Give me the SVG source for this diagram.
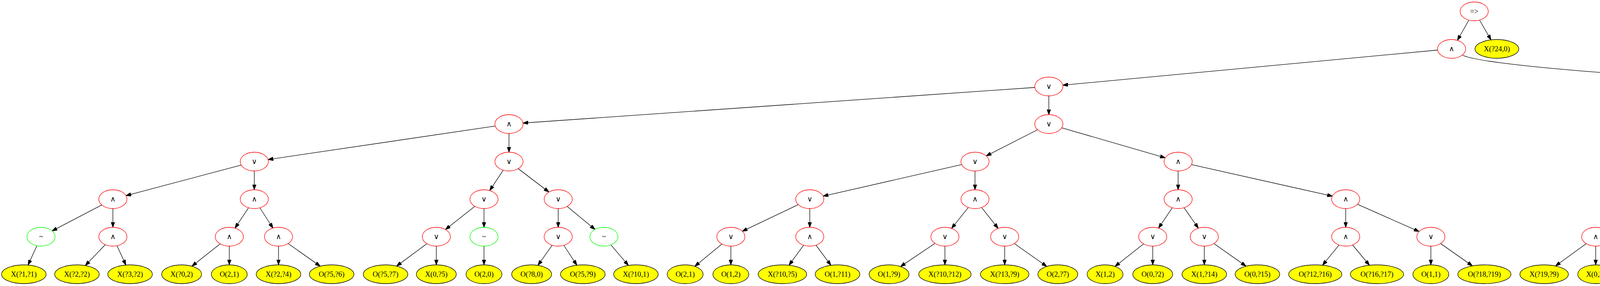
<svg xmlns="http://www.w3.org/2000/svg" width="5697" height="731" viewBox="0 0 5697 731">
<style>
.op ellipse{fill:none;stroke:#ff0000;stroke-width:1.33}
.neg ellipse{fill:none;stroke:#00ff00;stroke-width:1.33}
.leaf ellipse{fill:#ffff00;stroke:#000000;stroke-width:1.33}
text{font-family:"Liberation Serif","Times New Roman",serif;font-size:18.67px;text-anchor:middle;fill:#000}
.sym{font-family:"DejaVu Sans","Liberation Sans",sans-serif}
.edges path{fill:none;stroke:#000;stroke-width:1.33;marker-end:url(#ah)}
</style>
<defs>
<marker id="ah" viewBox="0 0 10 7" refX="10" refY="3.5" markerWidth="13.33" markerHeight="9.33" markerUnits="userSpaceOnUse" orient="auto"><path d="M0,0 L10,3.5 L0,7 z" fill="#000" stroke="#000" stroke-width="1"/></marker>
</defs>
<rect width="5697" height="731" fill="#fff"/>
<g id="edges" class="edges">
<path d="M3760,52 L3731,103"/>
<path d="M3788,52 L3817,102"/>
<path d="M3680,128 L2720.7,217.7"/>
<path d="M3744,141 C3790,165 4200,200 4721.4,218.5"/>
<path d="M2649.2,223.5 L1338.8,314.5"/>
<path d="M2685,245 L2685,293"/>
<path d="M4757,245 L4757,293"/>
<path d="M4788.9,232.1 L5000.1,305.9"/>
<path d="M1267.85,322.2 L686.15,407.8"/>
<path d="M1303,341 L1303,389"/>
<path d="M2656.4,331.5 L2524.6,398.5"/>
<path d="M2718,326.6 L2983,403.4"/>
<path d="M4738.1,337.4 L4686.9,392.6"/>
<path d="M4780.5,335.2 L4857.5,394.8"/>
<path d="M5032,341 L5032,389"/>
<path d="M5053.2,336.4 L5114.2,392.2"/>
<path d="M617.55,421.9 L322.45,500.1"/>
<path d="M651,437 L651,485"/>
<path d="M1288.4,434.9 L1253.6,487.1"/>
<path d="M1326.7,431.1 L1405.3,490.9"/>
<path d="M2461.9,420.7 L2107.1,501.3"/>
<path d="M2496,437 L2496,485"/>
<path d="M3016,437 L3016,485"/>
<path d="M3050.1,420.6 L3410.9,501.4"/>
<path d="M4634.4,421.7 L4330.6,500.3"/>
<path d="M4668,437 L4668,485"/>
<path d="M4881,437 L4881,485"/>
<path d="M4909.05,428 L5031.95,494"/>
<path d="M5062,431 C5120,460 5200,475 5328,504"/>
<path d="M260.65,523.8 L133.35,590.2"/>
<path d="M289,533 L289,581"/>
<path d="M636.4,530.9 L601.6,583.1"/>
<path d="M665.2,531 L698.8,583"/>
<path d="M1215.7,527.3 L1140.3,586.7"/>
<path d="M1239,533 L1239,581"/>
<path d="M1429,533 L1429,581"/>
<path d="M1451.7,527.6 L1523.3,586.4"/>
<path d="M2043.7,522.9 L1900.3,591.1"/>
<path d="M2073,533 L2073,581"/>
<path d="M2479,530.2 L2436,583.8"/>
<path d="M2512.8,530.2 L2555.2,583.8"/>
<path d="M3001.2,530.9 L2965.8,583.1"/>
<path d="M3031.2,530.8 L3067.8,583.2"/>
<path d="M3445,533 L3445,581"/>
<path d="M3475,522.2 L3633,591.8"/>
<path d="M4267.2,522.5 L4114.8,591.5"/>
<path d="M4297,533 L4297,581"/>
<path d="M4659.5,532.3 L4641.5,581.7"/>
<path d="M4685.65,529.9 L4731.35,584.1"/>
<path d="M5060,533 L5060,581"/>
<path d="M5089.2,523 L5230.8,591"/>
<path d="M5388.1,526.2 L5477.9,587.8"/>
<path d="M94.5,628 L71.8,677.4"/>
<path d="M269.6,625.2 L218.3,678.7"/>
<path d="M299.5,628 L322.2,677.4"/>
<path d="M563.7,623.3 L491.2,680.4"/>
<path d="M587,629 L587,677"/>
<path d="M713,629 L713,677"/>
<path d="M737.7,622.45 L819.8,680.4"/>
<path d="M1092.9,622.8 L1015.2,680.15"/>
<path d="M1117,629 L1117,677"/>
<path d="M1239,629 L1239,677"/>
<path d="M1413.6,626.7 L1377.1,678.2"/>
<path d="M1443.4,627 L1476.8,677.9"/>
<path d="M1563.8,625.9 L1608.7,678.4"/>
<path d="M1848.3,623.6 L1778.7,680.7"/>
<path d="M1871,629 L1871,677"/>
<path d="M2057.3,626.6 L2019.8,677.9"/>
<path d="M2088.9,626.5 L2127.1,678.1"/>
<path d="M2393.6,622 L2305.3,681.35"/>
<path d="M2419,629 L2419,677"/>
<path d="M2572,629 L2572,677"/>
<path d="M2596.7,622.45 L2679.7,681"/>
<path d="M2927.7,623.3 L2854.4,681"/>
<path d="M2951,629 L2951,677"/>
<path d="M3083,629 L3083,677"/>
<path d="M3107.7,622.45 L3189.8,680.4"/>
<path d="M3427.9,626.1 L3385.7,677.9"/>
<path d="M3462.5,626 L3505.8,678"/>
<path d="M3663,629 L3663,677"/>
<path d="M3687.8,622.4 L3769.4,679.6"/>
<path d="M4060.7,622.7 L3982.1,679.8"/>
<path d="M4085,629 L4085,677"/>
<path d="M4280.5,626.35 L4240.85,677.8"/>
<path d="M4313.5,626.35 L4353.4,678.2"/>
<path d="M4609.3,623.1 L4534.6,680"/>
<path d="M4633,629 L4633,677"/>
<path d="M4749,629 L4749,677"/>
<path d="M4771.6,623.7 L4840.5,680.7"/>
<path d="M5044.6,626.7 L5008.3,678"/>
<path d="M5075.4,626.7 L5111.7,678"/>
<path d="M5260,629 L5260,677"/>
<path d="M5283.3,623.3 L5356.6,681"/>
<path d="M5503,629 L5503,677"/>
<path d="M5527.3,622.7 L5606.4,680.2"/>
</g>
<g id="n_root" class="op"><ellipse cx="3774" cy="29" rx="36" ry="24"/><text x="3774" y="35">=&gt;</text></g>
<g id="n_r1a" class="op"><ellipse cx="3716" cy="125" rx="36" ry="24"/><text class="sym" x="3716" y="131">∧</text></g>
<g id="n_x24" class="leaf"><ellipse cx="3832" cy="125" rx="56" ry="24"/><text x="3832" y="131">X(?24,0)</text></g>
<g id="n_r2a" class="op"><ellipse cx="2685" cy="221" rx="36" ry="24"/><text class="sym" x="2685" y="227">∨</text></g>
<g id="n_r2b" class="op"><ellipse cx="4757" cy="221" rx="36" ry="24"/><text class="sym" x="4757" y="227">∧</text></g>
<g id="n_r3a" class="op"><ellipse cx="1303" cy="317" rx="36" ry="24"/><text class="sym" x="1303" y="323">∧</text></g>
<g id="n_r3b" class="op"><ellipse cx="2685" cy="317" rx="36" ry="24"/><text class="sym" x="2685" y="323">∨</text></g>
<g id="n_r3c" class="op"><ellipse cx="4757" cy="317" rx="36" ry="24"/><text class="sym" x="4757" y="323">∨</text></g>
<g id="n_r3d" class="op"><ellipse cx="5032" cy="317" rx="36" ry="24"/><text class="sym" x="5032" y="323">∧</text></g>
<g id="n_r4a" class="op"><ellipse cx="651" cy="413" rx="36" ry="24"/><text class="sym" x="651" y="419">∨</text></g>
<g id="n_r4b" class="op"><ellipse cx="1303" cy="413" rx="36" ry="24"/><text class="sym" x="1303" y="419">∨</text></g>
<g id="n_r4c" class="op"><ellipse cx="2496" cy="413" rx="36" ry="24"/><text class="sym" x="2496" y="419">∨</text></g>
<g id="n_r4d" class="op"><ellipse cx="3016" cy="413" rx="36" ry="24"/><text class="sym" x="3016" y="419">∧</text></g>
<g id="n_r4e" class="op"><ellipse cx="4668" cy="413" rx="36" ry="24"/><text class="sym" x="4668" y="419">∧</text></g>
<g id="n_r4f" class="op"><ellipse cx="4881" cy="413" rx="36" ry="24"/><text class="sym" x="4881" y="419">∧</text></g>
<g id="n_r4g" class="neg"><ellipse cx="5032" cy="413" rx="36" ry="24"/><text x="5032" y="419">~</text></g>
<g id="n_r4h" class="leaf"><ellipse cx="5137" cy="413" rx="46" ry="24"/><text x="5137" y="419">O(1,1)</text></g>
<g id="n_r5a" class="op"><ellipse cx="289" cy="509" rx="36" ry="24"/><text class="sym" x="289" y="515">∧</text></g>
<g id="n_r5b" class="op"><ellipse cx="651" cy="509" rx="36" ry="24"/><text class="sym" x="651" y="515">∧</text></g>
<g id="n_r5c" class="op"><ellipse cx="1239" cy="509" rx="36" ry="24"/><text class="sym" x="1239" y="515">∨</text></g>
<g id="n_r5d" class="op"><ellipse cx="1429" cy="509" rx="36" ry="24"/><text class="sym" x="1429" y="515">∨</text></g>
<g id="n_r5e" class="op"><ellipse cx="2073" cy="509" rx="36" ry="24"/><text class="sym" x="2073" y="515">∨</text></g>
<g id="n_r5f" class="op"><ellipse cx="2496" cy="509" rx="36" ry="24"/><text class="sym" x="2496" y="515">∧</text></g>
<g id="n_r5g" class="op"><ellipse cx="3016" cy="509" rx="36" ry="24"/><text class="sym" x="3016" y="515">∧</text></g>
<g id="n_r5h" class="op"><ellipse cx="3445" cy="509" rx="36" ry="24"/><text class="sym" x="3445" y="515">∧</text></g>
<g id="n_r5i" class="op"><ellipse cx="4297" cy="509" rx="36" ry="24"/><text class="sym" x="4297" y="515">∨</text></g>
<g id="n_r5j" class="op"><ellipse cx="4668" cy="509" rx="36" ry="24"/><text class="sym" x="4668" y="515">∧</text></g>
<g id="n_r5k" class="leaf"><ellipse cx="4881" cy="509" rx="51" ry="24"/><text x="4881" y="515">X(?2,0)</text></g>
<g id="n_r5l" class="op"><ellipse cx="5060" cy="509" rx="36" ry="24"/><text class="sym" x="5060" y="515">∨</text></g>
<g id="n_r5m" class="neg"><ellipse cx="5363" cy="509" rx="36" ry="24"/><text x="5363" y="515">~</text></g>
<g id="n_r6a" class="neg"><ellipse cx="105" cy="605" rx="36" ry="24"/><text x="105" y="611">~</text></g>
<g id="n_r6b" class="op"><ellipse cx="289" cy="605" rx="36" ry="24"/><text class="sym" x="289" y="611">∧</text></g>
<g id="n_r6c" class="op"><ellipse cx="587" cy="605" rx="36" ry="24"/><text class="sym" x="587" y="611">∧</text></g>
<g id="n_r6d" class="op"><ellipse cx="713" cy="605" rx="36" ry="24"/><text class="sym" x="713" y="611">∧</text></g>
<g id="n_r6e" class="op"><ellipse cx="1117" cy="605" rx="36" ry="24"/><text class="sym" x="1117" y="611">∨</text></g>
<g id="n_r6f" class="neg"><ellipse cx="1239" cy="605" rx="36" ry="24"/><text x="1239" y="611">~</text></g>
<g id="n_r6g" class="op"><ellipse cx="1429" cy="605" rx="36" ry="24"/><text class="sym" x="1429" y="611">∨</text></g>
<g id="n_r6h" class="neg"><ellipse cx="1546" cy="605" rx="36" ry="24"/><text x="1546" y="611">~</text></g>
<g id="n_r6i" class="op"><ellipse cx="1871" cy="605" rx="36" ry="24"/><text class="sym" x="1871" y="611">∨</text></g>
<g id="n_r6j" class="op"><ellipse cx="2073" cy="605" rx="36" ry="24"/><text class="sym" x="2073" y="611">∧</text></g>
<g id="n_r6k" class="op"><ellipse cx="2419" cy="605" rx="36" ry="24"/><text class="sym" x="2419" y="611">∨</text></g>
<g id="n_r6l" class="op"><ellipse cx="2572" cy="605" rx="36" ry="24"/><text class="sym" x="2572" y="611">∨</text></g>
<g id="n_r6m" class="op"><ellipse cx="2951" cy="605" rx="36" ry="24"/><text class="sym" x="2951" y="611">∨</text></g>
<g id="n_r6n" class="op"><ellipse cx="3083" cy="605" rx="36" ry="24"/><text class="sym" x="3083" y="611">∨</text></g>
<g id="n_r6o" class="op"><ellipse cx="3445" cy="605" rx="36" ry="24"/><text class="sym" x="3445" y="611">∧</text></g>
<g id="n_r6p" class="op"><ellipse cx="3663" cy="605" rx="36" ry="24"/><text class="sym" x="3663" y="611">∨</text></g>
<g id="n_r6q" class="op"><ellipse cx="4085" cy="605" rx="36" ry="24"/><text class="sym" x="4085" y="611">∧</text></g>
<g id="n_r6r" class="op"><ellipse cx="4297" cy="605" rx="36" ry="24"/><text class="sym" x="4297" y="611">∨</text></g>
<g id="n_r6s" class="op"><ellipse cx="4633" cy="605" rx="36" ry="24"/><text class="sym" x="4633" y="611">∨</text></g>
<g id="n_r6t" class="op"><ellipse cx="4749" cy="605" rx="36" ry="24"/><text class="sym" x="4749" y="611">∨</text></g>
<g id="n_r6u" class="op"><ellipse cx="5060" cy="605" rx="36" ry="24"/><text class="sym" x="5060" y="611">∨</text></g>
<g id="n_r6v" class="op"><ellipse cx="5260" cy="605" rx="36" ry="24"/><text class="sym" x="5260" y="611">∨</text></g>
<g id="n_r6w" class="op"><ellipse cx="5503" cy="605" rx="36" ry="24"/><text class="sym" x="5503" y="611">∧</text></g>
<g id="n_l01" class="leaf"><ellipse cx="61" cy="701" rx="57" ry="24"/><text x="61" y="707">X(?1,?1)</text></g>
<g id="n_l02" class="leaf"><ellipse cx="197" cy="701" rx="57" ry="24"/><text x="197" y="707">X(?2,?2)</text></g>
<g id="n_l03" class="leaf"><ellipse cx="333" cy="701" rx="57" ry="24"/><text x="333" y="707">X(?3,?2)</text></g>
<g id="n_l04" class="leaf"><ellipse cx="465" cy="701" rx="51" ry="24"/><text x="465" y="707">X(?0,2)</text></g>
<g id="n_l05" class="leaf"><ellipse cx="587" cy="701" rx="46" ry="24"/><text x="587" y="707">O(2,1)</text></g>
<g id="n_l06" class="leaf"><ellipse cx="713" cy="701" rx="57" ry="24"/><text x="713" y="707">X(?2,?4)</text></g>
<g id="n_l07" class="leaf"><ellipse cx="849" cy="701" rx="57" ry="24"/><text x="849" y="707">O(?5,?6)</text></g>
<g id="n_l08" class="leaf"><ellipse cx="987" cy="701" rx="57" ry="24"/><text x="987" y="707">O(?5,?7)</text></g>
<g id="n_l09" class="leaf"><ellipse cx="1117" cy="701" rx="51" ry="24"/><text x="1117" y="707">X(0,?5)</text></g>
<g id="n_l10" class="leaf"><ellipse cx="1239" cy="701" rx="46" ry="24"/><text x="1239" y="707">O(2,0)</text></g>
<g id="n_l11" class="leaf"><ellipse cx="1361" cy="701" rx="51" ry="24"/><text x="1361" y="707">O(?8,0)</text></g>
<g id="n_l12" class="leaf"><ellipse cx="1492" cy="701" rx="57" ry="24"/><text x="1492" y="707">O(?5,?9)</text></g>
<g id="n_l13" class="leaf"><ellipse cx="1628" cy="701" rx="57" ry="24"/><text x="1628" y="707">X(?10,1)</text></g>
<g id="n_l14" class="leaf"><ellipse cx="1754" cy="701" rx="46" ry="24"/><text x="1754" y="707">O(2,1)</text></g>
<g id="n_l15" class="leaf"><ellipse cx="1871" cy="701" rx="46" ry="24"/><text x="1871" y="707">O(1,2)</text></g>
<g id="n_l16" class="leaf"><ellipse cx="2003" cy="701" rx="62" ry="24"/><text x="2003" y="707">X(?10,?5)</text></g>
<g id="n_l17" class="leaf"><ellipse cx="2144" cy="701" rx="57" ry="24"/><text x="2144" y="707">O(1,?11)</text></g>
<g id="n_l18" class="leaf"><ellipse cx="2276" cy="701" rx="51" ry="24"/><text x="2276" y="707">O(1,?9)</text></g>
<g id="n_l19" class="leaf"><ellipse cx="2419" cy="701" rx="67" ry="24"/><text x="2419" y="707">X(?10,?12)</text></g>
<g id="n_l20" class="leaf"><ellipse cx="2572" cy="701" rx="62" ry="24"/><text x="2572" y="707">X(?13,?9)</text></g>
<g id="n_l21" class="leaf"><ellipse cx="2708" cy="701" rx="51" ry="24"/><text x="2708" y="707">O(2,?7)</text></g>
<g id="n_l22" class="leaf"><ellipse cx="2829" cy="701" rx="46" ry="24"/><text x="2829" y="707">X(1,2)</text></g>
<g id="n_l23" class="leaf"><ellipse cx="2951" cy="701" rx="51" ry="24"/><text x="2951" y="707">O(0,?2)</text></g>
<g id="n_l24" class="leaf"><ellipse cx="3083" cy="701" rx="57" ry="24"/><text x="3083" y="707">X(1,?14)</text></g>
<g id="n_l25" class="leaf"><ellipse cx="3219" cy="701" rx="57" ry="24"/><text x="3219" y="707">O(0,?15)</text></g>
<g id="n_l26" class="leaf"><ellipse cx="3367" cy="701" rx="68" ry="24"/><text x="3367" y="707">O(?12,?16)</text></g>
<g id="n_l27" class="leaf"><ellipse cx="3525" cy="701" rx="68" ry="24"/><text x="3525" y="707">O(?16,?17)</text></g>
<g id="n_l28" class="leaf"><ellipse cx="3663" cy="701" rx="46" ry="24"/><text x="3663" y="707">O(1,1)</text></g>
<g id="n_l29" class="leaf"><ellipse cx="3800" cy="701" rx="68" ry="24"/><text x="3800" y="707">O(?18,?19)</text></g>
<g id="n_l30" class="leaf"><ellipse cx="3953" cy="701" rx="62" ry="24"/><text x="3953" y="707">X(?19,?9)</text></g>
<g id="n_l31" class="leaf"><ellipse cx="4085" cy="701" rx="46" ry="24"/><text x="4085" y="707">X(0,2)</text></g>
<g id="n_l32" class="leaf"><ellipse cx="4223" cy="701" rx="68" ry="24"/><text x="4223" y="707">X(?20,?21)</text></g>
<g id="n_l33" class="leaf"><ellipse cx="4371" cy="701" rx="57" ry="24"/><text x="4371" y="707">X(2,?20)</text></g>
<g id="n_l34" class="leaf"><ellipse cx="4507" cy="701" rx="57" ry="24"/><text x="4507" y="707">X(0,?22)</text></g>
<g id="n_l35" class="leaf"><ellipse cx="4633" cy="701" rx="46" ry="24"/><text x="4633" y="707">X(0,0)</text></g>
<g id="n_l36" class="leaf"><ellipse cx="4749" cy="701" rx="46" ry="24"/><text x="4749" y="707">O(2,2)</text></g>
<g id="n_l37" class="leaf"><ellipse cx="4865" cy="701" rx="46" ry="24"/><text x="4865" y="707">X(0,1)</text></g>
<g id="n_l38" class="leaf"><ellipse cx="4992" cy="701" rx="57" ry="24"/><text x="4992" y="707">O(1,?23)</text></g>
<g id="n_l39" class="leaf"><ellipse cx="5128" cy="701" rx="57" ry="24"/><text x="5128" y="707">O(?22,0)</text></g>
<g id="n_l40" class="leaf"><ellipse cx="5260" cy="701" rx="51" ry="24"/><text x="5260" y="707">O(0,?3)</text></g>
<g id="n_l41" class="leaf"><ellipse cx="5382" cy="701" rx="46" ry="24"/><text x="5382" y="707">O(2,2)</text></g>
<g id="n_l42" class="leaf"><ellipse cx="5503" cy="701" rx="51" ry="24"/><text x="5503" y="707">X(1,?0)</text></g>
<g id="n_l43" class="leaf"><ellipse cx="5635" cy="701" rx="57" ry="24"/><text x="5635" y="707">X(?19,2)</text></g>
</svg>
